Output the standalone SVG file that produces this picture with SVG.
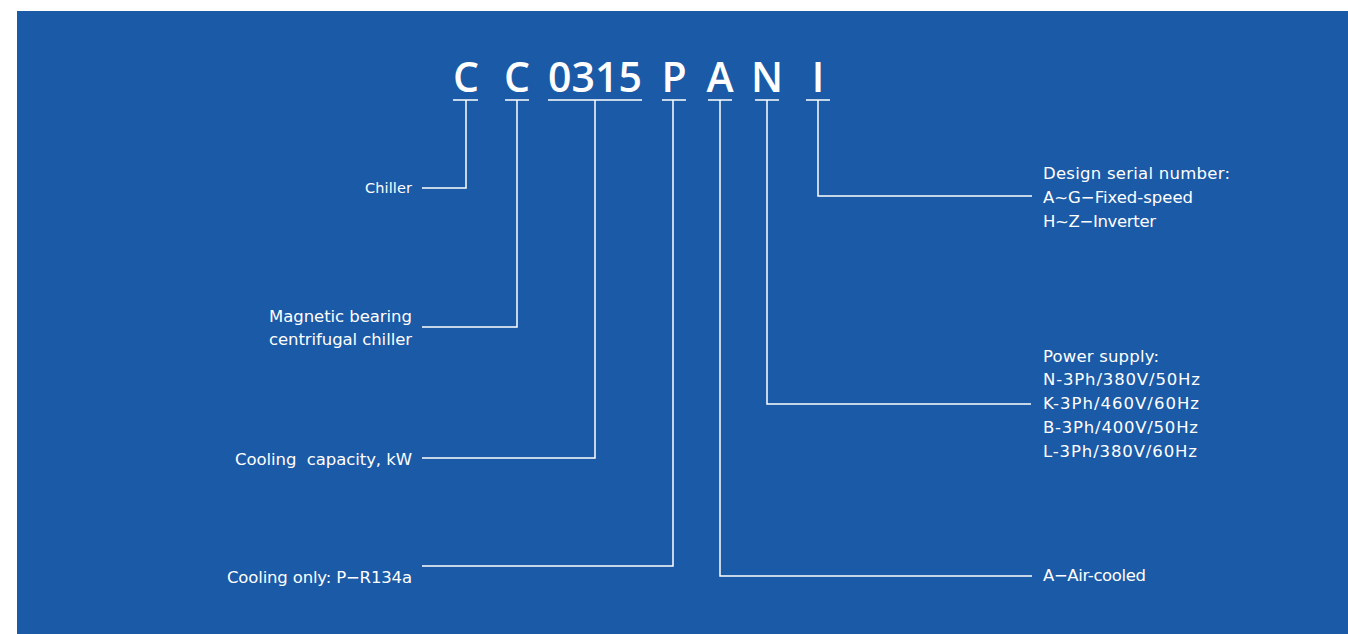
<svg xmlns="http://www.w3.org/2000/svg" width="1348" height="634" viewBox="0 0 1348 634">
<style>
.code{font-family:"Open Sans","Liberation Sans",sans-serif;font-size:41px;font-weight:600;fill:#ffffff;text-anchor:middle}
.lbl{font-family:"DejaVu Sans","Liberation Sans",sans-serif;font-size:16.5px;fill:#ffffff}
.r{text-anchor:end}
.ln{fill:none;stroke:#ffffff;stroke-width:1.5}
</style>
<rect x="17" y="11" width="1331" height="623" fill="#1B5AA6"/>
<g id="code">
<text class="code" x="466" y="92">C</text>
<text class="code" x="517" y="92">C</text>
<text class="code" x="595" y="92">0315</text>
<text class="code" x="674" y="92">P</text>
<text class="code" x="720" y="92">A</text>
<text class="code" x="767" y="92">N</text>
<text class="code" x="818" y="92">I</text>
</g>
<g id="connectors">
<path class="ln" d="M453 100H478M505 100H529M548 100H642M662 100H686M708 100H732M755 100H779M806 100H830"/>
<path class="ln" d="M466 100V188H422"/>
<path class="ln" d="M517 100V327H422"/>
<path class="ln" d="M595 100V458H422"/>
<path class="ln" d="M673 100V566H422"/>
<path class="ln" d="M720 100V576H1032"/>
<path class="ln" d="M767 100V404H1031"/>
<path class="ln" d="M818 100V196H1032"/>
</g>
<g id="chiller"><text class="lbl r" x="412" y="193" style="font-size:14.5px" textLength="47" lengthAdjust="spacing">Chiller</text></g>
<g id="magnetic"><text class="lbl r" x="412" y="322" textLength="143" lengthAdjust="spacing">Magnetic bearing</text><text class="lbl r" x="412" y="345" textLength="143" lengthAdjust="spacing">centrifugal chiller</text></g>
<g id="capacity"><text class="lbl r" x="412" y="465" xml:space="preserve" textLength="177" lengthAdjust="spacing">Cooling  capacity, kW</text></g>
<g id="cooling"><text class="lbl r" x="412" y="583" textLength="185" lengthAdjust="spacing">Cooling only: P−R134a</text></g>
<g id="design"><text class="lbl" x="1043" y="179" textLength="187" lengthAdjust="spacing">Design serial number:</text><text class="lbl" x="1043" y="203" textLength="150" lengthAdjust="spacing">A~G−Fixed-speed</text><text class="lbl" x="1043" y="227" textLength="113" lengthAdjust="spacing">H~Z−Inverter</text></g>
<g id="power"><text class="lbl" x="1043" y="362" textLength="116" lengthAdjust="spacing">Power supply:</text><text class="lbl" x="1043" y="385" textLength="157" lengthAdjust="spacing">N-3Ph/380V/50Hz</text><text class="lbl" x="1043" y="409" textLength="156" lengthAdjust="spacing">K-3Ph/460V/60Hz</text><text class="lbl" x="1043" y="433" textLength="155" lengthAdjust="spacing">B-3Ph/400V/50Hz</text><text class="lbl" x="1043" y="457" textLength="154" lengthAdjust="spacing">L-3Ph/380V/60Hz</text></g>
<g id="air"><text class="lbl" x="1043" y="581" textLength="103" lengthAdjust="spacing">A−Air-cooled</text></g>
</svg>
